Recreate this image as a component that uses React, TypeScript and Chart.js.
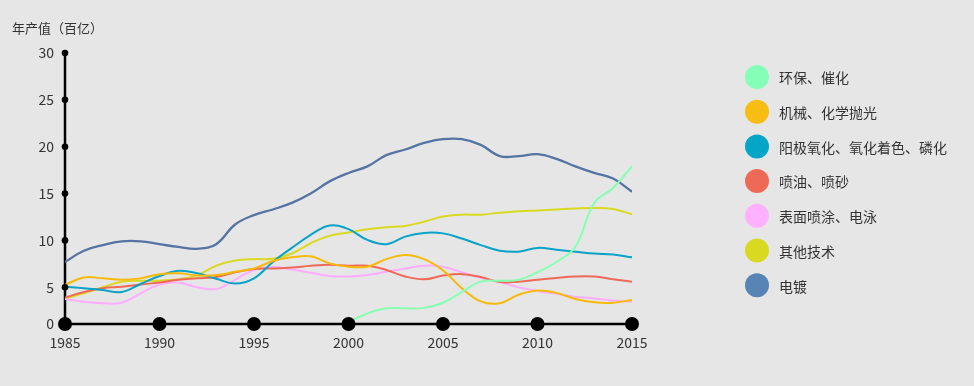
import React, { useEffect, useRef } from "react";
import { Chart, registerables } from "chart.js";

Chart.register(...registerables);

// ---- data ----
const years = [1985, 1986, 1987, 1988, 1989, 1990, 1991, 1992, 1993, 1994, 1995, 1996, 1997, 1998, 1999, 2000,
  2001, 2002, 2003, 2004, 2005, 2006, 2007, 2008, 2009, 2010, 2011, 2012, 2013, 2014, 2015];
const ecoYears = [2000, 2001, 2002, 2003, 2004, 2005, 2006, 2007, 2008, 2009, 2010, 2011, 2012, 2013, 2014, 2015];

const seriesNames = ["环保、催化", "机械、化学抛光", "阳极氧化、氧化着色、磷化", "喷油、喷砂", "表面喷涂、电泳", "其他技术", "电镀"];
const legendColors = ["#85ffb8", "#f7bd13", "#04a5c7", "#ef6a56", "#ffb1ff", "#dad922", "#5783b5"];
const lineColors = ["#85ffb0", "#f7b90a", "#08a3c6", "#ef6a56", "#ffadff", "#dad922", "#5574a3"];

const ecoCatalysis = [1.3, 2.2, 2.75, 2.75, 2.8, 3.35, 4.5, 5.6, 5.7, 5.8, 6.6, 7.7, 9.3, 14.0, 15.6, 17.9];
const polishing = [5.25, 6.05, 5.95, 5.8, 5.95, 6.4, 6.5, 6.25, 6.3, 6.65, 7.0, 7.8, 8.2, 8.3, 7.55, 7.2,
  7.2, 8.0, 8.45, 8.0, 6.8, 4.9, 3.5, 3.3, 4.2, 4.65, 4.4, 3.75, 3.4, 3.35, 3.65];
const anodizing = [5.05, 4.9, 4.7, 4.5, 5.35, 6.2, 6.75, 6.5, 5.9, 5.4, 5.95, 7.7, 9.2, 10.6, 11.6, 11.2,
  10.05, 9.6, 10.4, 10.8, 10.75, 10.2, 9.5, 8.9, 8.8, 9.2, 9.0, 8.8, 8.6, 8.5, 8.2];
const spraying = [3.9, 4.5, 4.9, 5.05, 5.3, 5.5, 5.8, 5.95, 6.1, 6.6, 6.95, 7.0, 7.1, 7.3, 7.4, 7.3,
  7.3, 6.85, 6.15, 5.85, 6.25, 6.4, 6.1, 5.55, 5.6, 5.8, 6.0, 6.15, 6.15, 5.85, 5.6];
const coating = [3.75, 3.45, 3.3, 3.35, 4.35, 5.3, 5.5, 5.0, 4.8, 5.8, 6.85, 7.15, 6.9, 6.55, 6.2, 6.15,
  6.3, 6.65, 7.0, 7.3, 7.2, 6.6, 6.0, 5.55, 5.0, 4.6, 4.3, 4.0, 3.8, 3.6, 3.45];
const otherTech = [3.8, 4.35, 5.0, 5.6, 5.7, 5.7, 5.85, 6.3, 7.3, 7.85, 8.0, 8.05, 8.6, 9.7, 10.5, 10.85,
  11.2, 11.4, 11.55, 12.0, 12.55, 12.75, 12.75, 12.95, 13.1, 13.2, 13.3, 13.4, 13.45, 13.35, 12.8];
const electroplating = [7.7, 8.9, 9.5, 9.9, 9.9, 9.6, 9.3, 9.1, 9.6, 11.7, 12.7, 13.3, 14.0, 15.0, 16.3, 17.2,
  17.9, 19.1, 19.7, 20.4, 20.8, 20.8, 20.2, 19.0, 19.0, 19.2, 18.7, 17.9, 17.2, 16.6, 15.2];

const xTickValues = [1985, 1990, 1995, 2000, 2005, 2010, 2015];
const yTickValues = [5, 10, 15, 20, 25, 30];
const yTitle = "年产值（百亿）";

// scale geometry (the x-axis sits slightly above the zero of the value scale)
const Y_BASE = 1.08;
const Y_MAX = 30;

const FONT = '"Noto Sans CJK SC", "Noto Sans", sans-serif';

export default function App() {
  const canvasRef = useRef<HTMLCanvasElement | null>(null);

  useEffect(() => {
    document.body.style.margin = "0";
    document.body.style.background = "#e6e6e6";
    const canvas = canvasRef.current;
    if (!canvas) return;

    const series = [ecoCatalysis, polishing, anodizing, spraying, coating, otherTech, electroplating];
    const datasets = series.map((vals, i) => {
      const xs = vals.length === ecoYears.length ? ecoYears : years;
      return {
        label: seriesNames[i],
        data: vals.map((v, k) => ({ x: xs[k], y: v })),
        borderColor: lineColors[i],
        backgroundColor: legendColors[i],
        borderWidth: i === 6 ? 2.3 : 2,
        pointRadius: 0,
        tension: 0.4,
        fill: false,
      };
    });

    const overlay = {
      id: "overlay",
      beforeDatasetsDraw(chart: any) {
        const { ctx, scales } = chart;
        const x = scales.x;
        const y = scales.y;
        ctx.save();
        ctx.strokeStyle = "#000";
        ctx.lineWidth = 2.5;
        ctx.beginPath();
        ctx.moveTo(x.left, y.getPixelForValue(Y_MAX));
        ctx.lineTo(x.left, y.bottom);
        ctx.lineTo(x.right, y.bottom);
        ctx.stroke();
        ctx.restore();
      },
      afterDraw(chart: any) {
        const { ctx, scales } = chart;
        const x = scales.x;
        const y = scales.y;
        ctx.save();
        ctx.fillStyle = "#000";
        yTickValues.forEach((v) => {
          ctx.beginPath();
          ctx.arc(x.left, y.getPixelForValue(v), 3.3, 0, Math.PI * 2);
          ctx.fill();
        });
        xTickValues.forEach((v) => {
          ctx.beginPath();
          ctx.arc(x.getPixelForValue(v), y.bottom, 7, 0, Math.PI * 2);
          ctx.fill();
        });
        // axis title
        ctx.fillStyle = "#333";
        ctx.font = `13px ${FONT}`;
        ctx.textAlign = "left";
        ctx.textBaseline = "middle";
        ctx.fillText(yTitle, 12, 28);
        // legend
        ctx.font = `14px ${FONT}`;
        seriesNames.forEach((name, i) => {
          const cy = 77 + i * 34.7;
          ctx.fillStyle = legendColors[i];
          ctx.beginPath();
          ctx.arc(757, cy, 12, 0, Math.PI * 2);
          ctx.fill();
          ctx.fillStyle = "#333";
          ctx.fillText(name, 779, cy + 1);
        });
        ctx.restore();
      },
    };

    const chart = new Chart(canvas, {
      type: "line",
      data: { datasets },
      options: {
        animation: false,
        responsive: false,
        devicePixelRatio: 1,
        layout: { padding: { left: 0, top: 53, right: 342, bottom: 0 } },
        plugins: { legend: { display: false }, tooltip: { enabled: false } },
        scales: {
          x: {
            type: "linear",
            min: 1985,
            max: 2015,
            grid: { display: false, drawTicks: false },
            border: { display: false },
            afterBuildTicks: (s: any) => {
              s.ticks = xTickValues.map((v) => ({ value: v }));
            },
            afterFit: (s: any) => {
              s.height = 62;
            },
            ticks: {
              padding: 10,
              color: "#333",
              font: { size: 14, family: FONT },
              maxRotation: 0,
              autoSkip: false,
              callback: (v: any) => String(v),
            },
          },
          y: {
            type: "linear",
            min: Y_BASE,
            max: Y_MAX,
            grid: { display: false, drawTicks: false },
            border: { display: false },
            afterBuildTicks: (s: any) => {
              s.ticks = [Y_BASE, ...yTickValues].map((v) => ({ value: v }));
            },
            afterFit: (s: any) => {
              s.width = 65;
            },
            ticks: {
              padding: 11,
              color: "#333",
              font: { size: 14, family: FONT },
              autoSkip: false,
              callback: (v: any) => (v < yTickValues[0] ? "0" : String(v)),
            },
          },
        },
      },
      plugins: [overlay],
    } as any);

    return () => chart.destroy();
  }, []);

  return (
    <div style={{ position: "fixed", left: 0, top: 0, width: 974, height: 386, background: "#e6e6e6" }}>
      <canvas ref={canvasRef} width={974} height={386} style={{ display: "block" }} />
    </div>
  );
}
